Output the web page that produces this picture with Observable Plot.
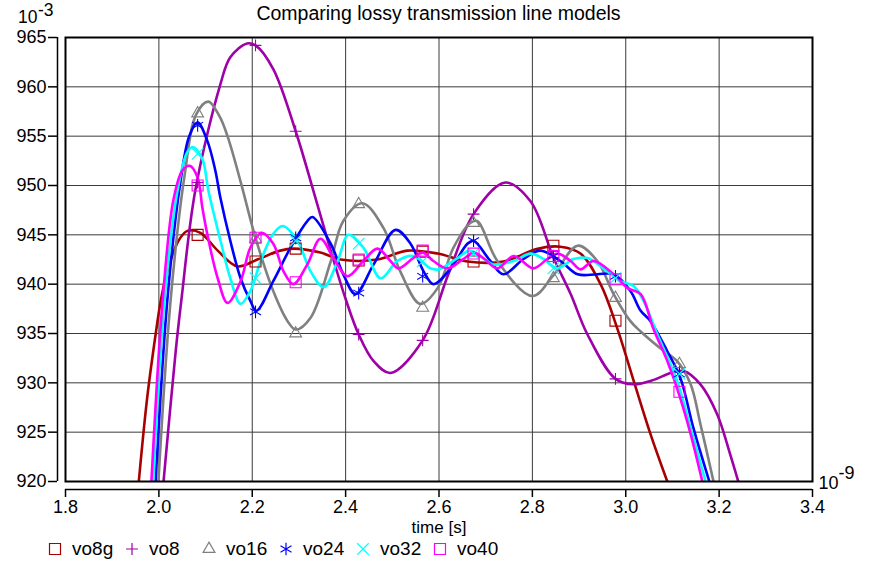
<!DOCTYPE html>
<html><head><meta charset="utf-8">
<script src="https://cdn.jsdelivr.net/npm/d3@7"></script>
<script src="https://cdn.jsdelivr.net/npm/@observablehq/plot@0.6"></script>
<style>
body{margin:0;background:#fff;font-family:"Liberation Sans",Arial,Helvetica,sans-serif;}
#wrap{width:869px;height:562px;position:relative;overflow:hidden;background:#fff}
#title{position:relative;height:28px;box-sizing:border-box;padding:3px 57px 0 65px;text-align:center;font-size:19.5px;line-height:21px;color:#000;white-space:nowrap}
.exp{position:absolute;color:#000;line-height:13px;font-size:17.5px}
#chart{height:507px}
#legend{display:flex;padding-left:47px;height:27px;align-items:center;font-size:19px;color:#000}
.item{display:flex;align-items:center;width:77px;flex:none}
.item svg{width:16px;height:16px;margin-right:9px;overflow:visible}
</style></head><body>
<div id="wrap">
<div id="title">Comparing lossy transmission line models<span class="exp" style="left:18px;top:11px">10</span><span class="exp" style="left:38px;top:4px">-3</span></div>
<div id="chart"></div>
<div id="legend"></div>
</div>
<script>
// ---- data (time in ns, voltage in mV) ----
const names = ["vo8g", "vo8", "vo16", "vo24", "vo32", "vo40"];
const xTicks = [1.8, 2.0, 2.2, 2.4, 2.6, 2.8, 3.0, 3.2, 3.4];
const yTicks = [920, 925, 930, 935, 940, 945, 950, 955, 960, 965];
const markerT = [2.083, 2.207, 2.293, 2.428, 2.565, 2.674, 2.845, 2.978, 3.115];

const vo8gT = [1.957, 1.975, 1.993, 2.004, 2.018, 2.042, 2.061, 2.089, 2.126, 2.168, 2.211, 2.26, 2.288, 2.346, 2.389, 2.468, 2.532, 2.597, 2.661, 2.738, 2.811, 2.86, 2.903, 2.946, 2.982, 3.017, 3.053, 3.089];
const vo8gV = [920, 928.5, 934.9, 938.3, 941.3, 944.4, 945.4, 945.2, 943.4, 941.8, 942.5, 943.4, 943.6, 943.2, 942.5, 942.5, 943.4, 943.1, 942.3, 942.3, 943.6, 943.8, 943.1, 940.0, 935.5, 930.2, 924.8, 920];
const vo8gM = [945.0, 942.3, 943.6, 942.4, 943.3, 942.3, 943.9, 936.3, null];

const vo8T = [2.010, 2.036, 2.048, 2.078, 2.132, 2.153, 2.189, 2.207, 2.245, 2.293, 2.335, 2.368, 2.40, 2.428, 2.46, 2.496, 2.565, 2.62, 2.674, 2.742, 2.796, 2.845, 2.882, 2.918, 2.978, 3.017, 3.06, 3.096, 3.124, 3.16, 3.196, 3.224, 3.241];
const vo8V = [920, 933.2, 938.3, 949.5, 960.3, 963.0, 964.4, 964.2, 961.8, 955.5, 948.8, 943.4, 938.5, 934.9, 932.2, 931.0, 934.3, 941.0, 947.1, 950.3, 948.4, 942.7, 939.0, 934.9, 930.4, 929.85, 930.3, 931.0, 931.2, 929.85, 926.8, 922.7, 920];
const vo8M = [950.3, 964.2, 955.5, 934.9, 934.3, 947.1, 942.7, 930.4, 931.1];

const vo16T = [1.999, 2.025, 2.055, 2.08, 2.106, 2.13, 2.147, 2.175, 2.207, 2.245, 2.275, 2.293, 2.325, 2.368, 2.395, 2.436, 2.481, 2.517, 2.56, 2.597, 2.631, 2.667, 2.682, 2.725, 2.80, 2.845, 2.897, 2.939, 2.974, 3.01, 3.032, 3.074, 3.11, 3.139, 3.16, 3.188];
const vo16V = [920, 938.3, 951.0, 957.2, 958.5, 957.0, 955.0, 950.4, 944.7, 939.3, 936.3, 935.4, 936.6, 942.3, 946.4, 948.2, 945.7, 941.3, 938.0, 939.6, 943.7, 946.2, 946.4, 942.35, 938.8, 940.9, 943.9, 942.35, 939.0, 936.25, 935.2, 933.5, 932.2, 929.85, 925.8, 920];
const vo16M = [957.3, 944.6, 935.0, 948.1, 937.6, 946.2, 940.6, 938.6, 931.9];

const vo24T = [1.993, 2.018, 2.045, 2.065, 2.083, 2.104, 2.121, 2.132, 2.153, 2.175, 2.196, 2.209, 2.245, 2.282, 2.318, 2.329, 2.368, 2.395, 2.421, 2.46, 2.507, 2.539, 2.567, 2.588, 2.625, 2.661, 2.674, 2.71, 2.738, 2.781, 2.817, 2.86, 2.897, 2.939, 2.974, 3.01, 3.032, 3.053, 3.089, 3.117, 3.145, 3.179];
const vo24V = [920, 938.3, 950.0, 955.0, 956.4, 954.5, 951.5, 948.7, 944.4, 940.6, 938.3, 937.3, 940.3, 943.7, 946.4, 946.8, 944.1, 941.0, 939.0, 942.0, 945.5, 944.1, 941.3, 940.0, 941.6, 944.1, 944.4, 942.35, 941.0, 942.55, 943.4, 942.35, 941.0, 941.0, 941.0, 939.3, 937.3, 936.25, 933.2, 930.5, 925.4, 920];
const vo24M = [956.1, 937.2, 944.7, 939.1, 940.8, 944.4, 942.85, 940.8, 930.9];

const vo32T = [1.988, 2.012, 2.04, 2.06, 2.072, 2.093, 2.106, 2.132, 2.153, 2.175, 2.196, 2.218, 2.245, 2.265, 2.297, 2.325, 2.353, 2.383, 2.406, 2.438, 2.475, 2.511, 2.545, 2.582, 2.599, 2.64, 2.667, 2.717, 2.76, 2.796, 2.824, 2.854, 2.888, 2.918, 2.952, 2.989, 3.017, 3.038, 3.068, 3.11, 3.139, 3.171];
const vo32V = [920, 938.3, 949.5, 953.3, 953.9, 952.7, 949.5, 944.4, 940.6, 938.0, 939.3, 942.35, 945.1, 945.9, 944.4, 941.3, 939.7, 942.35, 945.0, 943.7, 940.6, 942.35, 942.85, 941.6, 941.5, 942.65, 943.4, 942.0, 942.35, 943.1, 942.55, 941.6, 942.55, 942.65, 941.6, 940.3, 939.8, 938.3, 934.9, 930.2, 925.4, 920];
const vo32M = [953.2, 940.6, 944.4, 944.1, 942.3, 943.1, 941.6, 940.6, 930.9];

const vo40T = [1.984, 2.008, 2.031, 2.05, 2.066, 2.083, 2.093, 2.104, 2.126, 2.147, 2.175, 2.196, 2.22, 2.245, 2.267, 2.288, 2.318, 2.346, 2.374, 2.404, 2.438, 2.468, 2.496, 2.513, 2.545, 2.565, 2.588, 2.618, 2.652, 2.674, 2.695, 2.725, 2.76, 2.802, 2.832, 2.854, 2.882, 2.903, 2.931, 2.974, 3.004, 3.032, 3.059, 3.089, 3.117, 3.139, 3.164];
const vo40V = [920, 938.3, 948.5, 951.5, 952.0, 950.8, 947.8, 945.0, 940.6, 938.1, 940.3, 943.7, 945.2, 944.1, 941.3, 940.0, 942.0, 944.6, 942.65, 940.8, 942.35, 943.6, 942.35, 941.6, 942.65, 943.2, 942.35, 941.6, 942.55, 943.2, 942.65, 941.6, 942.85, 941.6, 942.55, 943.1, 942.35, 941.5, 942.35, 941.0, 939.6, 939.0, 935.5, 932.2, 928.4, 924.8, 920];
const vo40M = [950.0, 944.7, 940.2, 942.5, 943.4, 943.1, 942.85, 940.5, 929.1];

// ---- styles ----
const colors = ["#a80000", "#a000a8", "#808080", "#0000ff", "#00ffff", "#ff00ff"];
const symbols = ["square", "plus", "triangle", "asterisk", "times", "square"];
const d3Symbols = [d3.symbolSquare, d3.symbolPlus, d3.symbolTriangle, d3.symbolAsterisk, d3.symbolTimes, d3.symbolSquare];
const symR = [6.2, 3.9, 4.4, 6.0, 5.3, 6.2];

const seriesT = [vo8gT, vo8T, vo16T, vo24T, vo32T, vo40T];
const seriesV = [vo8gV, vo8V, vo16V, vo24V, vo32V, vo40V];
const seriesM = [vo8gM, vo8M, vo16M, vo24M, vo32M, vo40M];

const lineRows = names.flatMap((s, i) => seriesT[i].map((t, j) => ({s, t, v: seriesV[i][j]})));
const markRows = names.flatMap((s, i) => markerT.map((t, j) => ({s, t, v: seriesM[i][j]})).filter(d => d.v != null));

const font = "Liberation Sans, Arial, Helvetica, sans-serif";

const chart = Plot.plot({
  width: 869,
  height: 507,
  marginTop: 9,
  marginLeft: 65,
  marginRight: 57,
  marginBottom: 54,
  x: {domain: [1.8, 3.4]},
  y: {domain: [920, 965]},
  color: {domain: names, range: colors},
  symbol: {domain: names, range: symbols},
  style: {fontFamily: font, fontSize: "18px", background: "white", color: "black", overflow: "visible"},
  marks: [
    Plot.gridX(xTicks, {stroke: "#3a3a3a", strokeOpacity: 1, strokeWidth: 1}),
    Plot.gridY(yTicks, {stroke: "#3a3a3a", strokeOpacity: 1, strokeWidth: 1}),
    Plot.line(lineRows, {x: "t", y: "v", z: "s", stroke: "s", curve: "catmull-rom", strokeWidth: 2.6, clip: true}),
    ...names.map((n, i) => Plot.dot(markRows.filter(d => d.s === n), {x: "t", y: "v", stroke: "s", symbol: "s", r: symR[i], strokeWidth: 1.1, fill: "none"})),
    Plot.frame({stroke: "black", strokeWidth: 2}),
    Plot.ruleX([1.8], {dx: -8, stroke: "black", strokeWidth: 1.5}),
    Plot.ruleY([920], {dy: 8, stroke: "black", strokeWidth: 1.5}),
    Plot.axisY(yTicks, {anchor: "left", tickSize: 9, tickPadding: 2, dx: -8, tickFormat: d => String(d), label: null, strokeWidth: 1.5}),
    Plot.axisX(xTicks, {anchor: "bottom", tickSize: 8, tickPadding: 3, dy: 8, tickFormat: d3.format(".1f"), label: null, strokeWidth: 1.5}),
    Plot.text(["time [s]"], {text: d => d, frameAnchor: "bottom", dy: 46, lineAnchor: "middle", fontSize: 17, fill: "black"}),
    Plot.text(["10"], {text: d => d, frameAnchor: "bottom-right", dx: 6, dy: 2, textAnchor: "start", lineAnchor: "middle", fontSize: 18, fill: "black"}),
    Plot.text(["-9"], {text: d => d, frameAnchor: "bottom-right", dx: 26, dy: -8, textAnchor: "start", lineAnchor: "middle", fontSize: 18, fill: "black"})
  ]
});
document.getElementById("chart").appendChild(chart);

// ---- legend ----
const leg = d3.select("#legend");
names.forEach((n, i) => {
  const it = leg.append("div").attr("class", "item");
  const svg = it.append("svg").attr("viewBox", "-8 -8 16 16");
  svg.append("path")
    .attr("d", d3.symbol(d3Symbols[i], Math.PI * symR[i] * symR[i])())
    .attr("fill", "none").attr("stroke", colors[i]).attr("stroke-width", 1.2);
  it.append("span").text(n);
});
</script>
</body></html>
